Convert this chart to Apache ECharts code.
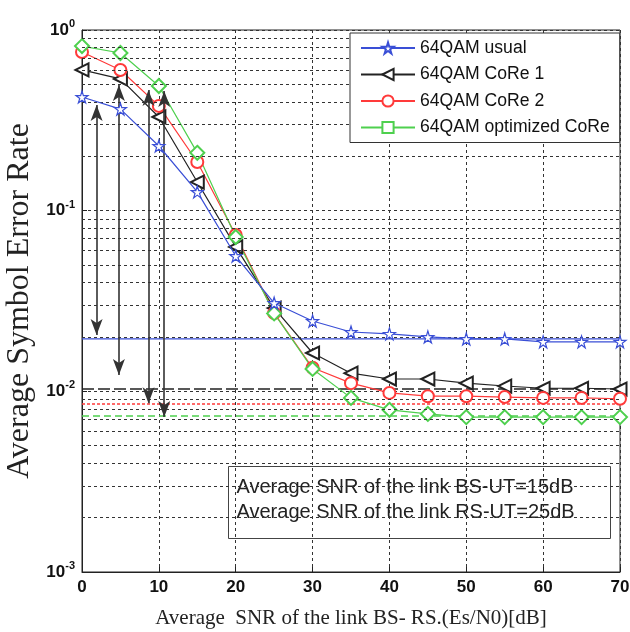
<!DOCTYPE html>
<html>
<head>
<meta charset="utf-8">
<script src="https://cdn.jsdelivr.net/npm/echarts@6/dist/echarts.min.js"></script>
<style>
html,body{margin:0;padding:0;background:#fff;}
#chart{width:630px;height:632px;}
</style>
</head>
<body>
<div id="chart"></div>
<script>
// ---- data ----
var snr = [0, 5, 10, 15, 20, 25, 30, 35, 40, 45, 50, 55, 60, 65, 70];
var usual = [0.426, 0.365, 0.228, 0.127, 0.0561, 0.0308, 0.0245, 0.0213, 0.0208, 0.0200, 0.0195, 0.0195, 0.0188, 0.0188, 0.0188];
var core1 = [0.601, 0.536, 0.33, 0.144, 0.063, 0.0289, 0.0163, 0.0126, 0.0117, 0.0117, 0.0111, 0.0107, 0.0104, 0.0104, 0.0103];
var core2 = [0.755, 0.601, 0.38, 0.186, 0.0733, 0.0271, 0.0135, 0.0111, 0.0098, 0.0094, 0.0094, 0.0093, 0.0092, 0.0092, 0.0091];
var optCore = [0.815, 0.746, 0.49, 0.209, 0.0715, 0.027, 0.0133, 0.0092, 0.0079, 0.0075, 0.0072, 0.0072, 0.0072, 0.0072, 0.0072];
var seriesNames = ['64QAM usual', '64QAM CoRe 1', '64QAM CoRe 2', '64QAM optimized CoRe'];
// asymptote reference levels
var refUsual = 0.0195, refCore1 = 0.0103, refCore2 = 0.0085, refOpt = 0.0073;
// double-headed arrows: [x, top, bottom]
var arrows = [[1.9, 0.385, 0.0205], [4.8, 0.496, 0.0123], [8.65, 0.466, 0.0086], [10.7, 0.46, 0.0072]];
var xRange = [0, 70];
var decades = [0.001, 0.01, 0.1, 1];
var noteLines = ['Average SNR of the link BS-UT=15dB', 'Average SNR of the link RS-UT=25dB'];
var xName = 'Average  SNR of the link BS- RS.(Es/N0)[dB]';
var yName = 'Average Symbol Error Rate';

// minor log grid values (2..9 x 10^k)
var minorVals = [];
for (var d = 0; d < decades.length - 1; d++) {
  for (var m = 2; m <= 9; m++) minorVals.push(+(m * decades[d]).toPrecision(3));
}

var BLUE = '#3a4fd6', BLACK = '#222', RED = '#ff3a3a', GREEN = '#4ed04e';
var starPath = 'path://M50,0 L61,35 L98,35 L68,57 L79,91 L50,70 L21,91 L32,57 L2,35 L39,35 Z';

function pairs(arr) { return snr.map(function (x, i) { return [x, arr[i]]; }); }
function hLine(v) { return [{ coord: [xRange[0], v] }, { coord: [xRange[1], v] }]; }
function refSeries(v, color, type, width) {
  return {
    type: 'line', data: [[xRange[0], v], [xRange[1], v]], symbol: 'none', silent: true, z: 3,
    lineStyle: { color: color, type: type, width: width }, legendHoverLink: false
  };
}

var gridMarks = minorVals.map(hLine);
var arrowMarks = arrows.map(function (a) { return [{ coord: [a[0], a[1]] }, { coord: [a[0], a[2]] }]; });

var chart = echarts.init(document.getElementById('chart'), null, { renderer: 'canvas' });
chart.setOption({
  animation: false,
  backgroundColor: '#fff',
  grid: { left: 82, right: 10, top: 30, bottom: 60, containLabel: false, outerBoundsMode: 'none',
    show: true, borderColor: BLACK, borderWidth: 1 },
  legend: {
    orient: 'vertical',
    left: 350, top: 33, z: 20,
    padding: [6, 10, 6, 10],
    backgroundColor: '#fff',
    borderColor: '#333', borderWidth: 1,
    itemWidth: 54, itemHeight: 14, itemGap: 8.5,
    data: seriesNames,
    textStyle: { fontFamily: 'Liberation Sans, Arial', fontSize: 17.6, color: '#111', lineHeight: 14 }
  },
  xAxis: {
    type: 'value', min: xRange[0], max: xRange[1], interval: 10,
    name: xName, nameLocation: 'middle', nameGap: 36,
    nameTextStyle: { fontFamily: 'Liberation Serif, Times New Roman', fontSize: 21, color: '#222' },
    axisLine: { lineStyle: { color: BLACK } },
    axisTick: { inside: true, length: 5, lineStyle: { color: BLACK } },
    axisLabel: { fontFamily: 'Liberation Sans, Arial', fontWeight: 'bold', fontSize: 17, color: '#111', margin: 7 },
    splitLine: { show: true, lineStyle: { color: '#333', type: [3, 3], width: 1 } }
  },
  yAxis: {
    type: 'log', logBase: 10, min: decades[0], max: decades[decades.length - 1],
    name: yName, nameLocation: 'middle', nameGap: 45,
    nameTextStyle: { fontFamily: 'Liberation Serif, Times New Roman', fontSize: 32, color: '#222' },
    axisLine: { lineStyle: { color: BLACK } },
    axisTick: { inside: true, length: 5, lineStyle: { color: BLACK } },
    axisLabel: {
      margin: 7,
      formatter: function (v) { return '{b|10}{s|' + Math.round(Math.log10(v)) + '}'; },
      rich: {
        b: { fontFamily: 'Liberation Sans, Arial', fontWeight: 'bold', fontSize: 17, color: '#111' },
        s: { fontFamily: 'Liberation Sans, Arial', fontWeight: 'bold', fontSize: 11, color: '#111', padding: [0, 0, 12, 0] }
      }
    },
    splitLine: { show: true, lineStyle: { color: '#333', type: [3, 3], width: 1 } }
  },
  series: [
    {
      name: 'gridhelper', type: 'line', data: [], silent: true, z: 1,
      markLine: { silent: true, symbol: ['none', 'none'], label: { show: false }, precision: 6,
        lineStyle: { color: '#333', type: [3, 3], width: 1 }, data: gridMarks }
    },
    refSeries(refUsual, BLUE, 'solid', 1.2),
    refSeries(refCore1, BLACK, [12, 4], 1.3),
    refSeries(refCore2, RED, [3, 2], 1.5),
    refSeries(refOpt, GREEN, [7, 4], 1.5),
    {
      name: seriesNames[0], type: 'line', data: pairs(usual), z: 5,
      symbol: starPath, symbolSize: 12,
      itemStyle: { color: '#fff', borderColor: BLUE, borderWidth: 1.2 },
      lineStyle: { color: BLUE, width: 1.2 }
    },
    {
      name: seriesNames[1], type: 'line', data: pairs(core1), z: 4,
      symbol: 'emptyTriangle', symbolSize: 13, symbolRotate: 90,
      itemStyle: { color: BLACK, borderWidth: 1.2 },
      lineStyle: { color: BLACK, width: 1.2 }
    },
    {
      name: seriesNames[2], type: 'line', data: pairs(core2), z: 4,
      symbol: 'emptyCircle', symbolSize: 12,
      itemStyle: { color: RED, borderWidth: 1.2 },
      lineStyle: { color: RED, width: 1.2 }
    },
    {
      name: seriesNames[3], type: 'line', data: [], z: 1,
      symbol: 'emptyRect', symbolSize: 12,
      itemStyle: { color: GREEN, borderWidth: 1.2 },
      lineStyle: { color: GREEN, width: 1.2 }
    },
    {
      name: seriesNames[3], type: 'line', data: pairs(optCore), z: 4,
      symbol: 'emptyDiamond', symbolSize: 14,
      itemStyle: { color: GREEN, borderWidth: 1.2 },
      lineStyle: { color: GREEN, width: 1.2 }
    },
    {
      name: 'arrows', type: 'line', data: [], silent: true, z: 6,
      markLine: { silent: true, symbol: ['arrow', 'arrow'], symbolSize: [9, 16], label: { show: false }, precision: 6,
        lineStyle: { color: '#333', type: 'solid', width: 1.6 }, data: arrowMarks }
    }
  ],
  graphic: [
    {
      type: 'group', left: 226, top: 464,
      children: [
        { type: 'rect', shape: { x: 0, y: 0, width: 382, height: 72 }, style: { fill: 'none', stroke: '#444', lineWidth: 1 } },
        { type: 'text', x: 8, y: 21, style: { text: noteLines[0], font: '20px "Liberation Sans", Arial', fill: '#222', textVerticalAlign: 'middle' } },
        { type: 'text', x: 8, y: 46, style: { text: noteLines[1], font: '20px "Liberation Sans", Arial', fill: '#222', textVerticalAlign: 'middle' } }
      ]
    }
  ]
});
</script>
</body>
</html>
